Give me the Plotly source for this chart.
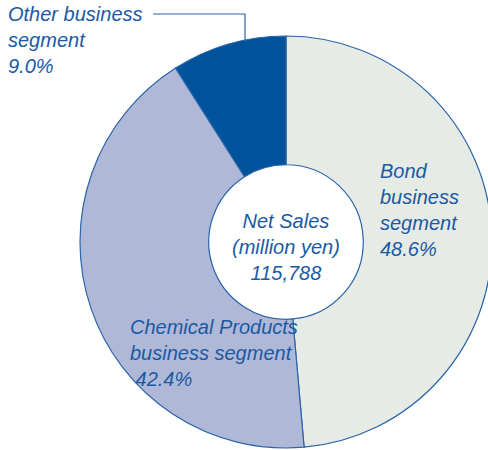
import plotly.graph_objects as go

labels = ["Bond business segment", "Chemical Products business segment", "Other business segment"]
shares = [48.6, 42.4, 9.0]
colors = ["#E6EBE6", "#B0B8D8", "#00539B"]
total_sales = "115,788"

W, H = 496, 450   # slightly wider than the 488 window: the ring is clipped on the right as in the reference
TXT = "#1A5AA5"
LINE = "#2A64AA"

def px(x):
    return x / W

def py(y):
    return 1 - y / H

fig = go.Figure(go.Pie(
    labels=labels,
    values=shares,
    sort=False,
    direction="clockwise",
    rotation=0,
    hole=0.375,
    textinfo="none",
    hoverinfo="none",
    marker=dict(colors=colors, line=dict(color=LINE, width=1.2)),
    domain=dict(x=[px(80), px(492)], y=[py(448), py(36)]),
    showlegend=False,
))

font = dict(family="Liberation Sans, Arial, sans-serif", size=20, color=TXT, style="italic")

ann = [
    dict(text=f"Other business<br>segment<br>{shares[2]:.1f}%", x=px(6), y=py(1), align="left"),
    dict(text=f"Bond<br>business<br>segment<br>{shares[0]:.1f}%", x=px(378), y=py(158), align="left"),
    dict(text=f"Chemical Products<br>business segment<br> {shares[1]:.1f}%", x=px(128), y=py(314), align="left"),
]
annotations = []
for a in ann:
    annotations.append(dict(xref="paper", yref="paper", xanchor="left", yanchor="top",
                            showarrow=False, font=font, **a))
annotations.append(dict(xref="paper", yref="paper", xanchor="center", yanchor="middle",
                        x=px(286), y=py(247), showarrow=False, align="center", font=font,
                        text=f"Net Sales<br>(million yen)<br>{total_sales}"))

shapes = [
    dict(type="path", xref="paper", yref="paper",
         path=f"M {px(153)} {py(14)} L {px(245)} {py(14)} L {px(245)} {py(42)}",
         line=dict(color=LINE, width=1.2)),
]

fig.update_layout(
    width=W, height=H,
    margin=dict(l=0, r=0, t=0, b=0),
    paper_bgcolor="white", plot_bgcolor="white",
    annotations=annotations,
    shapes=shapes,
)

fig.write_html("out.html", config={"displayModeBar": False, "staticPlot": True})

with open("out.html", "r", encoding="utf-8") as f:
    html = f.read()
html = html.replace("<head>", "<head><style>html,body{margin:0;padding:0;overflow:hidden;}</style>", 1)
with open("out.html", "w", encoding="utf-8") as f:
    f.write(html)
